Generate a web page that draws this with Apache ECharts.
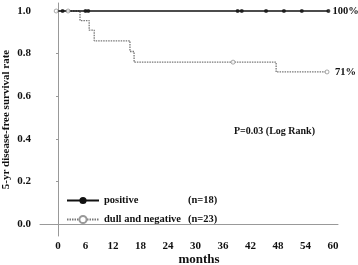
<!DOCTYPE html>
<html><head><meta charset="utf-8">
<script src="https://cdn.jsdelivr.net/npm/echarts@6/dist/echarts.min.js"></script>
<style>html,body{margin:0;padding:0;background:#fff}#c{width:358px;height:265px}</style>
</head><body><div id="c"></div>
<script>
// Kaplan-Meier step points [month, survival]
const positiveCurve = [[0, 1.0], [59, 1.0]];
const positiveCensored = [[1, 1.0], [6, 1.0], [6.6, 1.0], [39.2, 1.0], [40.1, 1.0], [45.4, 1.0], [49.3, 1.0], [53.2, 1.0], [59, 1.0]];
const negativeCurve = [[0, 1.0], [4.8, 0.955], [6.8, 0.91], [7.9, 0.86], [15.7, 0.81], [16.6, 0.76], [47.6, 0.714], [58.7, 0.714]];
const negativeCensored = [[-0.4, 1.0], [2.2, 1.0], [38.2, 0.76], [58.7, 0.714]];
const xTicks = [0, 6, 12, 18, 24, 30, 36, 42, 48, 54, 60];
const yTicks = [0, 0.2, 0.4, 0.6, 0.8, 1.0];
const seriesNames = ['positive', 'dull and negative'];
const seriesN = ['(n=18)', '(n=23)'];
const endLabels = ['100%', '71%'];

const font = 'Liberation Serif';
const chart = echarts.init(document.getElementById('c'));
chart.setOption({
  animation: false,
  grid: {left: 40, right: 20, top: 3, bottom: 29, outerBoundsMode: 'none', containLabel: false},
  xAxis: {
    type: 'value', min: -3.93, max: 61.1,
    name: 'months', nameLocation: 'middle', nameGap: 17, nameMoveOverlap: false,
    nameTextStyle: {fontFamily: font, fontWeight: 'bold', fontSize: 13, color: '#111', padding: [0, 0, 0, 20]},
    axisLine: {lineStyle: {color: '#999', width: 1}},
    axisTick: {show: false},
    splitLine: {show: false},
    axisLabel: {customValues: xTicks, fontFamily: font, fontWeight: 'bold', fontSize: 11, color: '#111', margin: 5}
  },
  yAxis: {
    type: 'value', min: -0.056, max: 1.0376,
    name: '5-yr disease-free survival rate', nameLocation: 'middle', nameGap: 28, nameRotate: 90, nameMoveOverlap: false,
    nameTextStyle: {fontFamily: font, fontWeight: 'bold', fontSize: 11, color: '#111'},
    axisLine: {show: true, lineStyle: {color: '#999', width: 1}},
    axisTick: {show: true, customValues: yTicks, length: 2, lineStyle: {color: '#999'}},
    splitLine: {show: false},
    axisLabel: {customValues: yTicks, formatter: v => v.toFixed(1), fontFamily: font, fontWeight: 'bold', fontSize: 11, color: '#111', margin: 9}
  },
  legend: {
    orient: 'vertical', left: 61, top: 190, itemWidth: 32, itemHeight: 9, itemGap: 8,
    data: [
      {name: seriesNames[0], itemStyle: {color: '#111'}},
      {name: seriesNames[1], itemStyle: {color: '#999', borderWidth: 0}}
    ],
    formatter: n => '{a|' + n + '}{b|' + seriesN[seriesNames.indexOf(n)] + '}',
    textStyle: {
      fontFamily: font, fontWeight: 'bold', fontSize: 10.5, color: '#111',
      rich: {a: {width: 84, fontFamily: font, fontWeight: 'bold', fontSize: 10.5, color: '#111'},
             b: {fontFamily: font, fontWeight: 'bold', fontSize: 10.5, color: '#111'}}
    }
  },
  graphic: [{
    type: 'text', left: 234, top: 126,
    style: {text: 'P=0.03 (Log Rank)', font: 'bold 10px "Liberation Serif"', fill: '#111'}
  }],
  series: [
    {
      name: seriesNames[0], type: 'line', step: 'end', data: positiveCurve,
      symbol: 'circle', symbolSize: 8, showSymbol: false,
      lineStyle: {color: '#111', width: 1.6}, itemStyle: {color: '#111'},
      endLabel: {show: true, formatter: endLabels[0], fontFamily: font, fontWeight: 'bold', fontSize: 10.5, color: '#111', distance: 4},
      z: 3
    },
    {
      name: seriesNames[1], type: 'line', step: 'end', data: negativeCurve,
      symbol: 'emptyCircle', symbolSize: 8, showSymbol: false,
      lineStyle: {color: '#777', width: 1.3, type: [1.5, 1]}, itemStyle: {color: '#fff', borderColor: '#777', borderWidth: 1},
      endLabel: {show: true, formatter: endLabels[1], fontFamily: font, fontWeight: 'bold', fontSize: 10.5, color: '#111', distance: 8},
      z: 2
    },
    {
      type: 'scatter', data: positiveCensored, symbol: 'circle', symbolSize: 4,
      itemStyle: {color: '#111'}, z: 4
    },
    {
      type: 'scatter', data: negativeCensored, symbol: 'circle', symbolSize: 4,
      itemStyle: {color: '#fff', borderColor: '#777', borderWidth: 0.8}, z: 5
    }
  ]
});
</script></body></html>
